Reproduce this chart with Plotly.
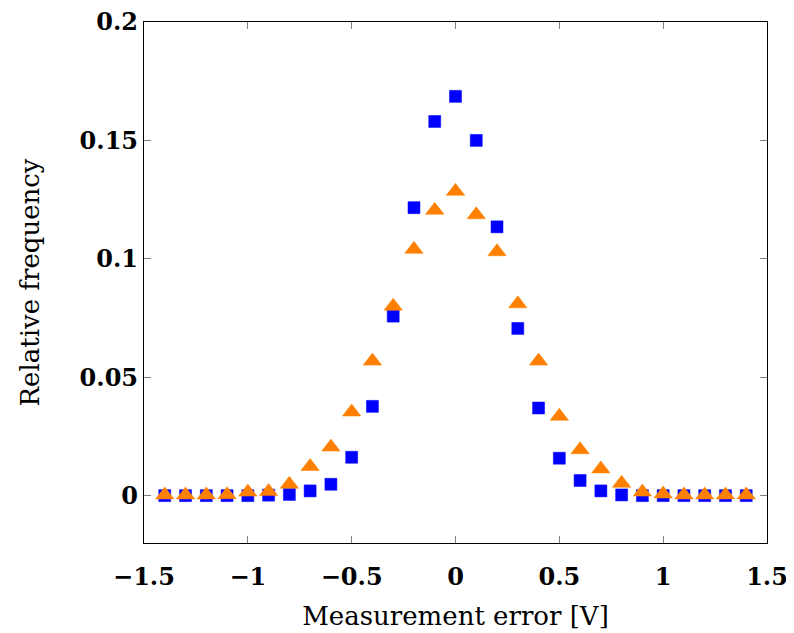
import plotly.graph_objects as go

x_vals = [-1.4, -1.3, -1.2, -1.1, -1.0, -0.9, -0.8, -0.7, -0.6, -0.5, -0.4, -0.3, -0.2, -0.1,
          0.0, 0.1, 0.2, 0.3, 0.4, 0.5, 0.6, 0.7, 0.8, 0.9, 1.0, 1.1, 1.2, 1.3, 1.4]
blue_vals = [0.0, 0.0, 0.0, 0.0, 0.0, 0.0002, 0.0005, 0.002, 0.0048, 0.0162, 0.0377, 0.0758, 0.1216, 0.158,
             0.1686, 0.150, 0.1135, 0.0706, 0.037, 0.0158, 0.0064, 0.002, 0.0003, 0.0, 0.0, 0.0, 0.0, 0.0, 0.0]
orange_vals = [0.0003, 0.0003, 0.0003, 0.0004, 0.0015, 0.0017, 0.0048, 0.0123, 0.0205, 0.0353, 0.0568, 0.080, 0.104, 0.1205,
               0.1285, 0.1186, 0.103, 0.081, 0.0568, 0.0335, 0.0194, 0.0113, 0.0052, 0.0015, 0.0007, 0.0003, 0.0003, 0.0003, 0.0003]

x_ticks = [-1.5, -1, -0.5, 0, 0.5, 1, 1.5]
x_tick_text = ["\u22121.5", "\u22121", "\u22120.5", "0", "0.5", "1", "1.5"]
y_ticks = [0, 0.05, 0.1, 0.15, 0.2]
y_tick_text = ["0", "0.05", "0.1", "0.15", "0.2"]

fig = go.Figure()
fig.add_trace(go.Scatter(x=x_vals, y=blue_vals, mode="markers",
                         marker=dict(symbol="square", size=12, color="#0000FF",
                                     line=dict(width=0.5, color="#0000FF"))))
fig.add_trace(go.Scatter(x=x_vals, y=orange_vals, mode="markers",
                         marker=dict(symbol="triangle-up", size=16, color="#FF8000",
                                     line=dict(width=0.5, color="#FF8000"))))

serif = "DejaVu Serif, Liberation Serif, serif"
axis_common = dict(showline=True, linecolor="black", linewidth=1.3, mirror="ticks",
                   ticks="inside", ticklen=7, tickcolor="#808080", tickwidth=1,
                   showgrid=False, zeroline=False, ticklabeloverflow="allow",
                   automargin=False,
                   tickfont=dict(family=serif, size=24, color="black", weight="bold"))

fig.update_layout(
    width=794, height=633,
    margin=dict(l=136, r=35, t=14, b=98),
    plot_bgcolor="white", paper_bgcolor="white",
    showlegend=False,
    xaxis=dict(range=[-1.5, 1.5], tickvals=x_ticks, ticktext=x_tick_text,
               ticklabelstandoff=12,
               title=dict(text="Measurement error [V]", font=dict(family=serif, size=26, color="black"),
                          standoff=16),
               **axis_common),
    yaxis=dict(range=[-0.02, 0.2], tickvals=y_ticks, ticktext=y_tick_text,
               title=dict(text="Relative frequency", font=dict(family=serif, size=26, color="black"),
                          standoff=32),
               **axis_common),
)

fig.write_html("out.html")
